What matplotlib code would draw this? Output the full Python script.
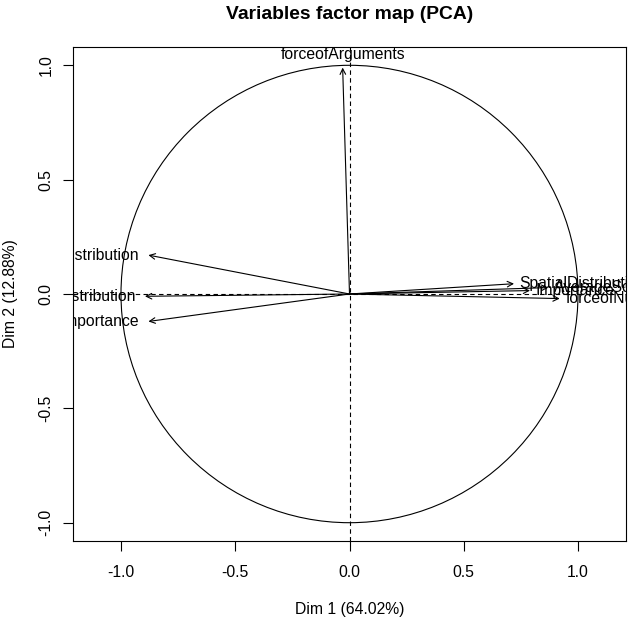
import numpy as np
import matplotlib
matplotlib.use('Agg')
import matplotlib.pyplot as plt
from matplotlib.patches import Circle

# variable coordinates on Dim 1 / Dim 2
var_names = ['forceofArguments', 'TemporalDistribution', 'FrequencyDistribution',
             'RelativeImportance', 'SpatialDistribution', 'Importance',
             'AverageScore', 'forceofNumbers']
dim1 = [-0.03, -0.88, -0.895, -0.88, 0.72, 0.79, 0.87, 0.92]
dim2 = [0.99, 0.17, -0.01, -0.12, 0.045, 0.015, 0.028, -0.02]

title = 'Variables factor map (PCA)'
xlabel = 'Dim 1 (64.02%)'
ylabel = 'Dim 2 (12.88%)'
ticks = [-1.0, -0.5, 0.0, 0.5, 1.0]

plt.rcParams['font.family'] = ['Liberation Sans', 'DejaVu Sans']
FS = 11.3

fig = plt.figure(figsize=(6.28, 6.18), dpi=100)
ax = fig.add_axes([73 / 628, 77 / 618, 553 / 628, 494 / 618])
ax.set_xlim(-1.21, 1.21)
ax.set_ylim(-1.08, 1.08)

# unit circle and dashed axes
ax.add_patch(Circle((0, 0), 1.0, fill=False, color='black', lw=0.8))
ax.axhline(0, color='black', lw=0.8, ls=(0, (4, 3)))
ax.axvline(0, color='black', lw=0.8, ls=(0, (4, 3)))

for name, x, y in zip(var_names, dim1, dim2):
    ax.annotate('', xy=(x, y), xytext=(0, 0),
                arrowprops=dict(arrowstyle='->', lw=0.8, color='black',
                                mutation_scale=10, shrinkA=0, shrinkB=0))
    if name == 'forceofArguments':
        ax.text(x, y + 0.025, name, ha='center', va='bottom', fontsize=FS, clip_on=True)
    elif x < 0:
        ax.text(x - 0.04, y, name, ha='right', va='center', fontsize=FS, clip_on=True)
    else:
        ax.text(x + 0.025, y, name, ha='left', va='center', fontsize=FS, clip_on=True)

ax.set_xticks(ticks)
ax.set_yticks(ticks)
ax.set_xticklabels([f'{t:.1f}' for t in ticks], fontsize=FS)
ax.set_yticklabels([f'{t:.1f}' for t in ticks], fontsize=FS, rotation=90, va='center')
ax.tick_params(direction='out', length=7, width=0.8)
ax.tick_params(axis='x', pad=10)
ax.tick_params(axis='y', pad=7)
for s in ax.spines.values():
    s.set_linewidth(0.8)

ax.set_title(title, fontsize=13.9, fontweight='bold', pad=20)
ax.set_xlabel(xlabel, fontsize=FS, labelpad=16)
ax.set_ylabel(ylabel, fontsize=FS, labelpad=15)

fig.savefig('out.png', dpi=100)
